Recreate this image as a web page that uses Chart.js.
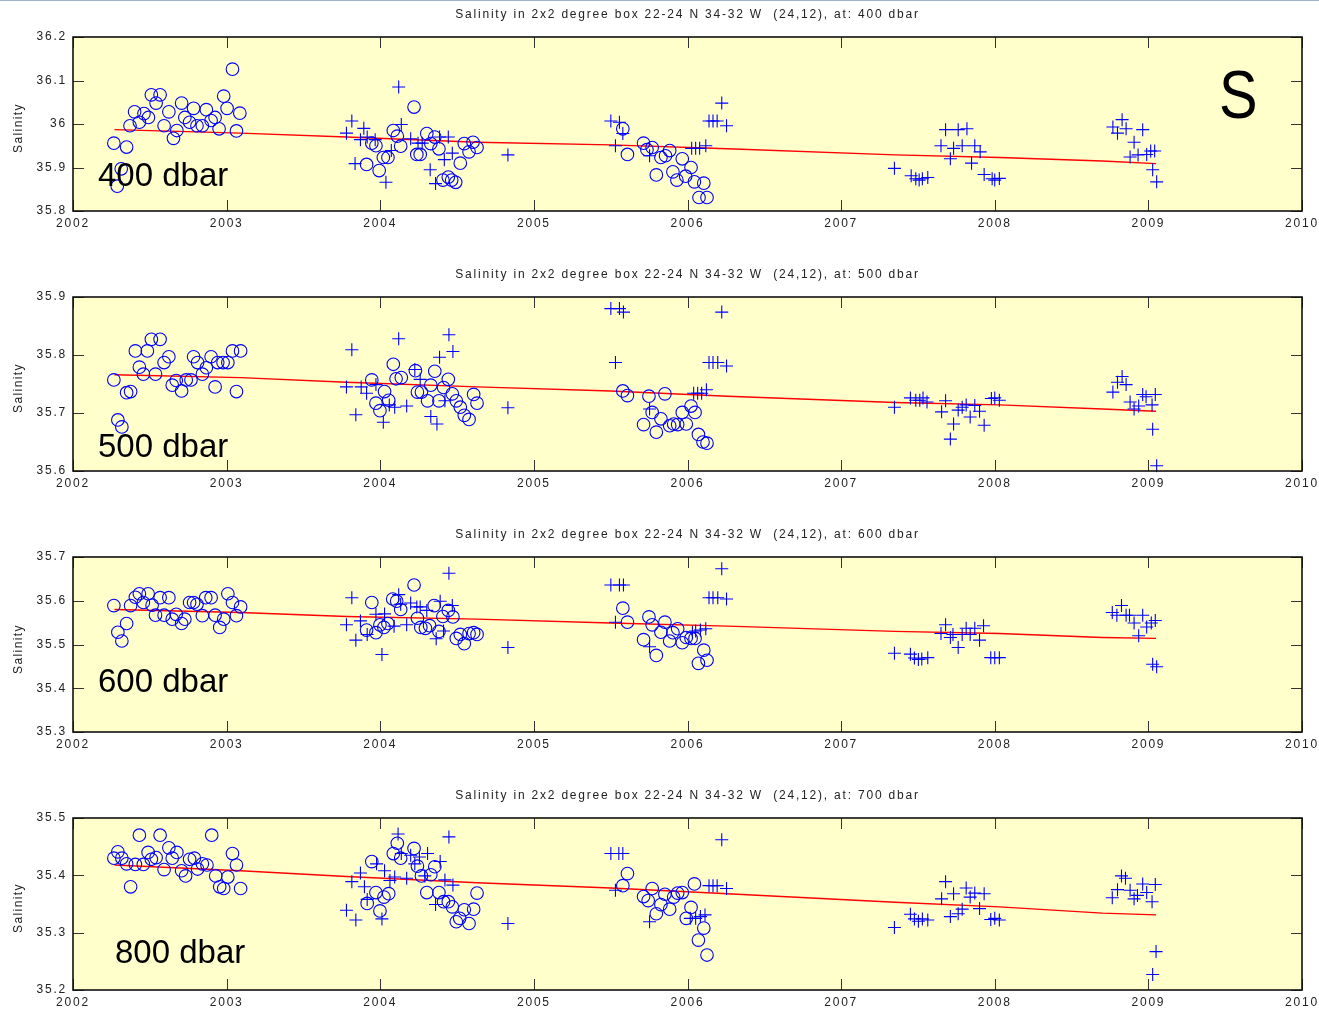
<!DOCTYPE html>
<html><head><meta charset="utf-8">
<script src="https://cdn.jsdelivr.net/npm/chart.js@4"></script>
<style>
html,body{margin:0;padding:0;background:#fff;width:1319px;height:1010px;overflow:hidden;font-family:"Liberation Sans",Arial,sans-serif;}
canvas{position:absolute;left:0;}
.topline{position:absolute;left:0;top:0;width:1319px;height:1px;background:#9fb0d0;}
.title{position:absolute;left:73px;width:1229px;text-align:center;font-size:12px;line-height:14px;letter-spacing:1.8px;white-space:pre;color:#222;}
.ylab{position:absolute;width:100px;height:14px;line-height:14px;text-align:center;font-size:12px;letter-spacing:1.4px;color:#222;transform:rotate(-90deg);}
.depth{position:absolute;font-size:33px;line-height:1;color:#000;white-space:pre;}
.big{position:absolute;font-size:68px;line-height:1;color:#000;transform:scaleX(0.85);transform-origin:left top;}
</style>
</head><body>
<div class="topline"></div>
<script>
// ---------------- DATA ----------------
const xTicks = [2002, 2003, 2004, 2005, 2006, 2007, 2008, 2009, 2010];
const yTicks400 = [35.8, 35.9, 36, 36.1, 36.2];
const yTicks500 = [35.6, 35.7, 35.8, 35.9];
const yTicks600 = [35.3, 35.4, 35.5, 35.6, 35.7];
const yTicks700 = [35.2, 35.3, 35.4, 35.5];

const depthLabels = ["400 dbar", "500 dbar", "600 dbar", "800 dbar"];
const titleDepths = [400, 500, 600, 700];

// circles: [year, salinity]
const circ400 = [
[2002.266,35.956],[2002.288,35.857],[2002.314,35.897],[2002.349,35.947],[2002.371,35.996],[2002.401,36.028],[2002.432,36.004],[2002.462,36.024],[2002.491,36.015],[2002.510,36.067],[2002.541,36.048],[2002.567,36.067],[2002.593,35.996],[2002.624,36.028],[2002.654,35.967],[2002.676,35.985],[2002.707,36.048],[2002.728,36.015],[2002.759,36.004],[2002.785,36.036],[2002.807,35.996],[2002.842,35.996],[2002.868,36.033],[2002.899,36.008],[2002.925,36.015],[2002.951,35.989],[2002.981,36.064],[2003.003,36.036],[2003.038,36.126],[2003.064,35.984],[2003.086,36.025],
[2003.911,35.907],[2003.945,35.956],[2003.972,35.950],[2003.993,35.893],[2004.020,35.923],[2004.050,35.923],[2004.085,35.985],[2004.111,35.972],[2004.133,35.949],[2004.220,36.039],[2004.238,35.930],[2004.260,35.930],[2004.303,35.978],[2004.329,35.955],[2004.355,35.970],[2004.382,35.943],[2004.408,35.871],[2004.443,35.878],[2004.465,35.871],[2004.491,35.866],[2004.521,35.910],[2004.547,35.955],[2004.578,35.936],[2004.604,35.958],[2004.630,35.946],
[2005.579,35.989],[2005.609,35.930],[2005.714,35.956],[2005.736,35.941],[2005.770,35.946],[2005.797,35.883],[2005.827,35.923],[2005.857,35.927],[2005.884,35.939],[2005.905,35.890],[2005.931,35.871],[2005.966,35.920],[2005.988,35.880],[2006.023,35.900],[2006.045,35.867],[2006.075,35.831],[2006.106,35.864],[2006.127,35.831]
];
const plus400 = [
[2003.780,35.979],[2003.815,36.007],[2003.836,35.909],[2003.871,35.964],[2003.893,35.990],[2003.915,35.970],[2003.967,35.964],[2004.037,35.866],[2004.072,35.939],[2004.120,36.085],[2004.137,35.999],[2004.198,35.966],[2004.246,35.956],[2004.273,35.956],[2004.325,35.895],[2004.360,35.863],[2004.386,35.970],[2004.417,35.918],[2004.443,35.970],[2004.469,35.933],[2004.831,35.929],
[2005.501,36.007],[2005.531,35.950],[2005.557,36.004],[2005.579,35.978],[2005.753,35.927],[2006.027,35.944],[2006.053,35.944],[2006.079,35.944],[2006.119,35.950],[2006.140,36.007],[2006.166,36.007],[2006.193,36.007],[2006.223,36.048],[2006.254,35.996],
[2007.347,35.898],[2007.456,35.881],[2007.486,35.874],[2007.508,35.871],[2007.529,35.874],[2007.564,35.877],[2007.650,35.950],[2007.680,35.987],[2007.711,35.920],[2007.732,35.944],[2007.762,35.987],[2007.788,35.950],[2007.819,35.989],[2007.849,35.910],[2007.870,35.950],[2007.905,35.936],[2007.931,35.884],[2007.983,35.874],[2008.000,35.871],[2008.030,35.875],
[2008.769,35.993],[2008.799,35.979],[2008.829,36.010],[2008.855,35.989],[2008.881,35.924],[2008.907,35.958],[2008.933,35.929],[2008.963,35.987],[2008.989,35.930],[2009.015,35.938],[2009.041,35.938],[2009.028,35.895],[2009.054,35.867]
];

const circ500 = [
[2002.266,35.757],[2002.292,35.688],[2002.318,35.676],[2002.349,35.735],[2002.375,35.737],[2002.406,35.807],[2002.432,35.779],[2002.458,35.767],[2002.484,35.807],[2002.510,35.827],[2002.537,35.767],[2002.567,35.827],[2002.593,35.787],[2002.624,35.797],[2002.646,35.748],[2002.672,35.756],[2002.707,35.738],[2002.737,35.757],[2002.768,35.757],[2002.785,35.797],[2002.811,35.787],[2002.842,35.767],[2002.868,35.778],[2002.899,35.797],[2002.925,35.745],[2002.942,35.787],[2002.977,35.787],[2003.008,35.787],[2003.038,35.807],[2003.064,35.737],[2003.091,35.807],
[2003.945,35.757],[2003.972,35.717],[2003.998,35.704],[2004.028,35.737],[2004.055,35.722],[2004.085,35.784],[2004.103,35.759],[2004.137,35.761],[2004.229,35.773],[2004.242,35.736],[2004.268,35.736],[2004.308,35.721],[2004.329,35.748],[2004.355,35.772],[2004.382,35.721],[2004.412,35.744],[2004.443,35.758],[2004.469,35.733],[2004.495,35.721],[2004.521,35.710],[2004.547,35.696],[2004.578,35.689],[2004.608,35.732],[2004.630,35.717],
[2005.579,35.738],[2005.609,35.730],[2005.714,35.680],[2005.749,35.729],[2005.770,35.701],[2005.797,35.667],[2005.827,35.690],[2005.853,35.733],[2005.884,35.678],[2005.910,35.681],[2005.936,35.680],[2005.966,35.701],[2005.992,35.681],[2006.023,35.712],[2006.049,35.701],[2006.071,35.663],[2006.101,35.650],[2006.127,35.648]
];
const plus500 = [
[2003.780,35.745],[2003.815,35.809],[2003.841,35.697],[2003.876,35.745],[2003.911,35.734],[2003.972,35.749],[2004.020,35.684],[2004.059,35.714],[2004.094,35.710],[2004.120,35.828],[2004.172,35.712],[2004.225,35.775],[2004.260,35.758],[2004.329,35.694],[2004.369,35.681],[2004.386,35.796],[2004.421,35.721],[2004.447,35.835],[2004.473,35.806],[2004.831,35.709],
[2005.501,35.880],[2005.531,35.787],[2005.557,35.880],[2005.583,35.874],[2005.753,35.707],[2006.040,35.734],[2006.066,35.734],[2006.092,35.734],[2006.123,35.740],[2006.140,35.787],[2006.166,35.787],[2006.197,35.787],[2006.223,35.874],[2006.254,35.781],
[2007.347,35.710],[2007.451,35.726],[2007.486,35.722],[2007.512,35.722],[2007.533,35.726],[2007.559,35.719],[2007.654,35.702],[2007.680,35.721],[2007.711,35.655],[2007.732,35.681],[2007.762,35.705],[2007.788,35.710],[2007.814,35.714],[2007.840,35.693],[2007.870,35.713],[2007.901,35.703],[2007.931,35.679],[2007.978,35.725],[2008.000,35.726],[2008.030,35.722],
[2008.769,35.736],[2008.799,35.753],[2008.829,35.763],[2008.855,35.749],[2008.881,35.719],[2008.907,35.707],[2008.937,35.712],[2008.963,35.732],[2008.985,35.728],[2009.024,35.714],[2009.045,35.732],[2009.028,35.672],[2009.054,35.609]
];

const circ600 = [
[2002.266,35.589],[2002.292,35.528],[2002.318,35.508],[2002.349,35.548],[2002.375,35.589],[2002.406,35.608],[2002.432,35.616],[2002.458,35.596],[2002.489,35.616],[2002.515,35.590],[2002.537,35.567],[2002.567,35.607],[2002.593,35.567],[2002.624,35.607],[2002.646,35.558],[2002.672,35.569],[2002.707,35.548],[2002.728,35.558],[2002.759,35.596],[2002.785,35.596],[2002.807,35.592],[2002.842,35.566],[2002.864,35.607],[2002.899,35.607],[2002.925,35.567],[2002.955,35.539],[2002.981,35.558],[2003.008,35.616],[2003.038,35.596],[2003.064,35.566],[2003.091,35.586],
[2003.911,35.533],[2003.945,35.596],[2003.972,35.527],[2003.998,35.545],[2004.024,35.539],[2004.050,35.548],[2004.081,35.604],[2004.107,35.599],[2004.133,35.580],[2004.220,35.636],[2004.242,35.560],[2004.264,35.539],[2004.294,35.537],[2004.321,35.543],[2004.351,35.589],[2004.382,35.530],[2004.408,35.564],[2004.443,35.578],[2004.473,35.563],[2004.495,35.514],[2004.521,35.523],[2004.547,35.502],[2004.578,35.525],[2004.608,35.527],[2004.630,35.523],
[2005.579,35.583],[2005.609,35.551],[2005.714,35.511],[2005.749,35.563],[2005.770,35.545],[2005.797,35.475],[2005.827,35.528],[2005.853,35.551],[2005.884,35.508],[2005.905,35.527],[2005.936,35.536],[2005.966,35.504],[2005.992,35.516],[2006.023,35.514],[2006.049,35.514],[2006.071,35.457],[2006.106,35.487],[2006.127,35.464]
];
const plus600 = [
[2003.780,35.545],[2003.815,35.607],[2003.841,35.510],[2003.871,35.554],[2003.915,35.523],[2003.972,35.569],[2004.011,35.477],[2004.028,35.570],[2004.090,35.542],[2004.120,35.614],[2004.133,35.592],[2004.172,35.545],[2004.198,35.595],[2004.238,35.586],[2004.260,35.586],[2004.303,35.578],[2004.364,35.513],[2004.390,35.599],[2004.412,35.531],[2004.447,35.663],[2004.469,35.589],[2004.831,35.493],
[2005.501,35.636],[2005.531,35.551],[2005.557,35.636],[2005.583,35.636],[2005.753,35.495],[2006.032,35.528],[2006.053,35.531],[2006.084,35.533],[2006.119,35.536],[2006.140,35.607],[2006.166,35.607],[2006.197,35.607],[2006.223,35.673],[2006.254,35.604],
[2007.347,35.480],[2007.451,35.478],[2007.477,35.469],[2007.503,35.466],[2007.525,35.467],[2007.564,35.470],[2007.650,35.525],[2007.680,35.545],[2007.711,35.516],[2007.728,35.523],[2007.762,35.493],[2007.788,35.523],[2007.814,35.537],[2007.840,35.523],[2007.870,35.537],[2007.901,35.510],[2007.927,35.543],[2007.974,35.470],[2008.000,35.470],[2008.030,35.470],
[2008.765,35.573],[2008.795,35.567],[2008.825,35.589],[2008.855,35.567],[2008.877,35.567],[2008.907,35.549],[2008.937,35.520],[2008.963,35.567],[2008.989,35.540],[2009.019,35.549],[2009.045,35.555],[2009.028,35.455],[2009.054,35.449]
];

const circ700 = [
[2002.266,35.430],[2002.292,35.441],[2002.318,35.430],[2002.349,35.420],[2002.375,35.380],[2002.406,35.419],[2002.432,35.470],[2002.458,35.419],[2002.489,35.440],[2002.510,35.428],[2002.541,35.431],[2002.567,35.470],[2002.593,35.410],[2002.624,35.448],[2002.646,35.430],[2002.676,35.440],[2002.707,35.408],[2002.733,35.399],[2002.759,35.428],[2002.790,35.430],[2002.811,35.411],[2002.842,35.420],[2002.872,35.418],[2002.903,35.470],[2002.929,35.399],[2002.955,35.380],[2002.981,35.377],[2003.008,35.397],[2003.038,35.438],[2003.064,35.418],[2003.091,35.377],
[2003.915,35.351],[2003.945,35.424],[2003.972,35.370],[2003.998,35.338],[2004.024,35.362],[2004.055,35.368],[2004.085,35.438],[2004.111,35.456],[2004.133,35.430],[2004.220,35.447],[2004.242,35.416],[2004.268,35.399],[2004.303,35.370],[2004.329,35.401],[2004.355,35.415],[2004.382,35.370],[2004.412,35.354],[2004.443,35.354],[2004.469,35.345],[2004.495,35.319],[2004.517,35.325],[2004.547,35.340],[2004.578,35.316],[2004.608,35.341],[2004.630,35.369],
[2005.579,35.382],[2005.609,35.403],[2005.714,35.363],[2005.744,35.356],[2005.770,35.377],[2005.797,35.333],[2005.827,35.349],[2005.853,35.367],[2005.884,35.341],[2005.910,35.362],[2005.936,35.369],[2005.966,35.370],[2005.992,35.325],[2006.023,35.344],[2006.045,35.385],[2006.071,35.287],[2006.106,35.308],[2006.127,35.261]
];
const plus700 = [
[2003.780,35.339],[2003.815,35.389],[2003.841,35.322],[2003.871,35.404],[2003.897,35.380],[2003.915,35.358],[2003.976,35.420],[2004.011,35.324],[2004.028,35.408],[2004.063,35.391],[2004.094,35.397],[2004.116,35.472],[2004.137,35.438],[2004.172,35.395],[2004.198,35.435],[2004.225,35.420],[2004.255,35.432],[2004.290,35.399],[2004.308,35.438],[2004.360,35.349],[2004.390,35.424],[2004.421,35.392],[2004.447,35.467],[2004.473,35.383],[2004.831,35.316],
[2005.501,35.438],[2005.531,35.374],[2005.553,35.438],[2005.579,35.438],[2005.753,35.319],[2006.018,35.325],[2006.053,35.325],[2006.084,35.328],[2006.114,35.331],[2006.140,35.382],[2006.166,35.382],[2006.193,35.382],[2006.223,35.462],[2006.254,35.377],
[2007.347,35.309],[2007.451,35.332],[2007.477,35.324],[2007.503,35.320],[2007.529,35.324],[2007.564,35.322],[2007.654,35.359],[2007.680,35.389],[2007.711,35.328],[2007.732,35.368],[2007.762,35.333],[2007.788,35.341],[2007.814,35.378],[2007.840,35.362],[2007.870,35.369],[2007.901,35.342],[2007.931,35.368],[2007.974,35.323],[2008.000,35.325],[2008.030,35.322],
[2008.765,35.361],[2008.799,35.375],[2008.825,35.399],[2008.851,35.395],[2008.881,35.374],[2008.907,35.359],[2008.929,35.365],[2008.963,35.385],[2008.989,35.370],[2009.024,35.354],[2009.045,35.384],[2009.050,35.267],[2009.028,35.227]
];

// red trend line
const trendT   = [2002.27, 2003.09, 2003.78, 2004.63, 2005.50, 2006.26, 2007.35, 2008.03, 2008.70, 2009.05];
const trend400 = [35.987, 35.979, 35.970, 35.958, 35.952, 35.943, 35.929, 35.923, 35.915, 35.909];
const trend500 = [35.766, 35.761, 35.753, 35.745, 35.738, 35.729, 35.718, 35.714, 35.707, 35.703];
const trend600 = [35.580, 35.573, 35.564, 35.558, 35.549, 35.542, 35.530, 35.525, 35.516, 35.514];
const trend700 = [35.418, 35.408, 35.398, 35.387, 35.378, 35.368, 35.353, 35.345, 35.334, 35.331];

// ---------------- LAYOUT ----------------
const panels = [
  {circ:circ400, plus:plus400, trend:trend400, yt:yTicks400, top:0,   h:231, titleTop:7,   depthL:98,  depthTop:158},
  {circ:circ500, plus:plus500, trend:trend500, yt:yTicks500, top:260, h:231, titleTop:267, depthL:98,  depthTop:429},
  {circ:circ600, plus:plus600, trend:trend600, yt:yTicks600, top:520, h:232, titleTop:527, depthL:98,  depthTop:664},
  {circ:circ700, plus:plus700, trend:trend700, yt:yTicks700, top:781, h:229, titleTop:788, depthL:115, depthTop:935}
];
const PAD_TOP = 37, AX_W = 73, AX_H = 20, PAD_R = 17;
const tickFont = {family:'"Liberation Sans", Arial, sans-serif', size:12};

const framePlugin = {
  id:'frame',
  beforeDraw(chart){
    const a = chart.chartArea, c = chart.ctx;
    c.save();
    c.fillStyle = '#ffffcc';
    c.fillRect(a.left, a.top, a.right - a.left, a.bottom - a.top);
    c.restore();
    c.letterSpacing = '1.8px';
  },
  afterDraw(chart){
    const a = chart.chartArea, c = chart.ctx;
    c.letterSpacing = '0px';
    c.save();
    c.strokeStyle = '#333';
    c.lineWidth = 1;
    const L = 11;
    chart.scales.x.ticks.forEach(t => {
      const px = Math.round(chart.scales.x.getPixelForValue(t.value)) + 0.5;
      c.beginPath();
      c.moveTo(px, a.bottom); c.lineTo(px, a.bottom - L);
      c.moveTo(px, a.top); c.lineTo(px, a.top + L);
      c.stroke();
    });
    chart.scales.y.ticks.forEach(t => {
      const py = Math.round(chart.scales.y.getPixelForValue(t.value)) + 0.5;
      c.beginPath();
      c.moveTo(a.left, py); c.lineTo(a.left + L, py);
      c.moveTo(a.right, py); c.lineTo(a.right - L, py);
      c.stroke();
    });
    c.strokeStyle = '#111';
    c.lineWidth = 1.6;
    c.strokeRect(a.left, a.top, a.right - a.left, a.bottom - a.top);
    c.restore();
  }
};

panels.forEach((p, i) => {
  const cv = document.createElement('canvas');
  cv.width = 1319; cv.height = p.h;
  cv.style.top = p.top + 'px';
  cv.style.width = '1319px'; cv.style.height = p.h + 'px';
  document.body.appendChild(cv);

  const plotTop = p.top + PAD_TOP, plotBot = p.top + p.h - AX_H;

  const tl = document.createElement('div');
  tl.className = 'title';
  tl.style.top = p.titleTop + 'px';
  tl.textContent = 'Salinity in 2x2 degree box 22-24 N 34-32 W  (24,12), at: ' + titleDepths[i] + ' dbar';
  document.body.appendChild(tl);

  const yl = document.createElement('div');
  yl.className = 'ylab';
  yl.style.left = (18 - 50) + 'px';
  yl.style.top = ((plotTop + plotBot) / 2 + 4 - 7) + 'px';
  yl.textContent = 'Salinity';
  document.body.appendChild(yl);

  const dl = document.createElement('div');
  dl.className = 'depth';
  dl.style.left = p.depthL + 'px';
  dl.style.top = p.depthTop + 'px';
  dl.textContent = depthLabels[i];
  document.body.appendChild(dl);

  new Chart(cv, {
    type:'scatter',
    data:{datasets:[
      {data:p.circ.map(d => ({x:d[0], y:d[1]})), pointStyle:'circle', pointRadius:6.3,
       borderColor:'#0000ff', backgroundColor:'rgba(0,0,0,0)', pointBorderWidth:1.1, borderWidth:1.1, clip:false},
      {data:p.plus.map(d => ({x:d[0], y:d[1]})), pointStyle:'cross', pointRadius:6.5,
       borderColor:'#0000ff', backgroundColor:'#0000ff', pointBorderWidth:1.1, borderWidth:1.1, clip:false},
      {type:'line', showLine:true, data:trendT.map((t, k) => ({x:t, y:p.trend[k]})),
       borderColor:'#ff0000', borderWidth:1.4, pointRadius:0, fill:false, tension:0}
    ]},
    options:{
      responsive:false, animation:false, devicePixelRatio:1, events:[],
      layout:{padding:{top:PAD_TOP, right:PAD_R, left:0, bottom:0}},
      plugins:{legend:{display:false}, tooltip:{enabled:false}, title:{display:false}},
      scales:{
        x:{type:'linear', min:2002, max:2010,
           afterBuildTicks:s => { s.ticks = xTicks.map(v => ({value:v})); },
           afterFit:s => { s.height = AX_H; s.paddingLeft = 0; s.paddingRight = 0; },
           grid:{display:false, drawTicks:false}, border:{display:false},
           ticks:{padding:5, font:tickFont, color:'#222', maxRotation:0, autoSkip:false, callback:v => String(v)}},
        y:{type:'linear', min:p.yt[0], max:p.yt[p.yt.length - 1],
           afterBuildTicks:s => { s.ticks = p.yt.map(v => ({value:v})); },
           afterFit:s => { s.width = AX_W; },
           grid:{display:false, drawTicks:false}, border:{display:false},
           ticks:{padding:6, font:tickFont, color:'#222', autoSkip:false, callback:v => String(v)}}
      }
    },
    plugins:[framePlugin]
  });
});

const s = document.createElement('div');
s.className = 'big';
s.style.left = '1219px';
s.style.top = '60px';
s.textContent = 'S';
document.body.appendChild(s);
</script>
</body></html>
